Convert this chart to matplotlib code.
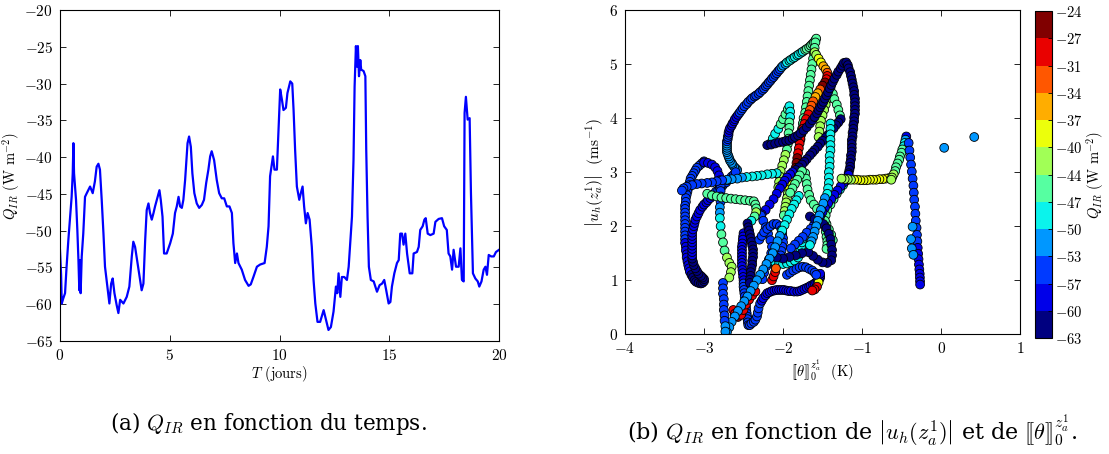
import numpy as np
import matplotlib
matplotlib.use("Agg")
import matplotlib.pyplot as plt
from matplotlib.colors import BoundaryNorm

plt.rcParams['font.family'] = ['cmr10']
plt.rcParams['mathtext.fontset'] = 'cm'
plt.rcParams['axes.formatter.use_mathtext'] = True
plt.rcParams['axes.unicode_minus'] = True

# ---------------- left panel: Q_IR time series ----------------
time_days = [0.00, 0.05, 0.08, 0.15, 0.23, 0.30, 0.38, 0.46, 0.53, 0.58, 0.61, 0.64, 0.73, 0.79, 0.84,
             0.88, 0.91, 0.94, 0.99, 1.06, 1.14, 1.22, 1.37, 1.49, 1.59, 1.67, 1.75, 1.82, 1.90, 1.98,
             2.05, 2.16, 2.25, 2.33, 2.40, 2.48, 2.58, 2.66, 2.74, 2.89, 3.04, 3.16, 3.27, 3.34, 3.42,
             3.53, 3.65, 3.72, 3.80, 3.88, 3.95, 4.03, 4.10, 4.18, 4.26, 4.33, 4.41, 4.53, 4.59, 4.67,
             4.74, 4.86, 5.02, 5.14, 5.24, 5.32, 5.40, 5.47, 5.55, 5.62, 5.70, 5.81, 5.88, 5.96, 6.03,
             6.12, 6.23, 6.34, 6.46, 6.56, 6.66, 6.76, 6.84, 6.91, 7.02, 7.14, 7.25, 7.37, 7.48, 7.60,
             7.72, 7.83, 7.90, 7.98, 8.06, 8.13, 8.28, 8.43, 8.59, 8.69, 8.81, 8.97, 9.12, 9.32, 9.42,
             9.50, 9.57, 9.70, 9.77, 9.88, 9.95, 10.03, 10.11, 10.18, 10.29, 10.36, 10.49, 10.58, 10.64,
             10.71, 10.79, 10.90, 10.97, 11.05, 11.12, 11.20, 11.28, 11.37, 11.47, 11.55, 11.63, 11.73,
             11.85, 12.01, 12.11, 12.23, 12.34, 12.46, 12.57, 12.63, 12.69, 12.77, 12.84, 12.95, 13.07,
             13.15, 13.22, 13.30, 13.37, 13.42, 13.48, 13.53, 13.57, 13.62, 13.68, 13.72, 13.83, 13.91,
             13.95, 14.01, 14.07, 14.16, 14.29, 14.44, 14.56, 14.67, 14.77, 14.86, 14.97, 15.05, 15.12,
             15.23, 15.35, 15.43, 15.50, 15.58, 15.65, 15.73, 15.81, 15.93, 16.05, 16.11, 16.26, 16.34,
             16.41, 16.52, 16.60, 16.66, 16.75, 16.87, 17.02, 17.10, 17.25, 17.40, 17.50, 17.62, 17.70,
             17.78, 17.86, 17.93, 18.04, 18.16, 18.24, 18.31, 18.39, 18.43, 18.49, 18.57, 18.66, 18.72,
             18.81, 18.92, 19.03, 19.10, 19.20, 19.30, 19.38, 19.45, 19.53, 19.64, 19.76, 19.86, 20.00]
q_ir = [-52.7, -56.0, -59.9, -59.2, -58.5, -54.9, -51.3, -48.1, -45.4, -42.2, -38.1, -42.2, -45.8, -49.9, -54.0,
        -58.1, -54.0, -58.5, -53.5, -50.4, -45.4, -44.9, -44.0, -44.9, -43.3, -41.3, -40.9, -41.7, -45.8, -50.4,
        -54.9, -57.6, -59.9, -57.2, -56.5, -58.5, -60.1, -61.2, -59.4, -59.9, -59.0, -57.6, -53.5, -51.5, -52.2,
        -54.4, -56.7, -58.1, -57.2, -51.3, -47.2, -46.3, -47.6, -48.5, -47.6, -46.7, -45.8, -44.5, -45.8, -48.1,
        -53.1, -53.1, -51.7, -50.4, -47.6, -46.7, -45.4, -46.7, -46.9, -45.8, -43.1, -38.1, -37.2, -38.6, -42.2,
        -44.9, -46.3, -46.9, -46.5, -45.8, -43.5, -41.7, -39.9, -39.2, -40.4, -43.1, -44.9, -45.6, -45.6, -46.7,
        -46.7, -47.6, -51.7, -54.4, -53.1, -54.4, -55.3, -56.7, -57.5, -57.3, -56.3, -54.9, -54.6, -54.4, -52.2,
        -49.4, -42.6, -39.9, -41.7, -41.7, -36.7, -30.8, -32.2, -33.6, -33.3, -31.3, -29.7, -30.0, -33.6,
        -39.0, -44.0, -45.8, -44.9, -44.0, -46.7, -49.0, -47.6, -48.5, -52.2, -56.7, -59.9, -62.4,
        -62.4, -60.8, -62.0, -63.5, -63.1, -61.0, -57.6, -58.5, -55.8, -59.0, -56.3, -56.3, -56.7,
        -54.9, -51.7, -48.1, -40.4, -30.4, -24.9, -27.7, -24.9, -29.0, -26.8, -28.1, -28.3, -29.0,
        -39.0, -48.1, -54.9, -56.7, -56.9, -58.3, -57.4, -57.2, -56.7, -58.1, -59.9, -59.7, -57.6,
        -55.8, -54.4, -54.0, -50.4, -50.4, -51.9, -50.4, -53.1, -55.8, -55.8, -53.1, -52.9, -52.2,
        -49.9, -49.4, -48.5, -48.3, -50.4, -50.6, -50.4, -48.8, -48.4, -48.3, -49.4, -49.9, -53.1,
        -53.5, -55.3, -52.6, -54.9, -54.9, -52.4, -56.7, -56.9, -34.0, -31.8, -34.9, -34.7, -44.9,
        -55.8, -56.5, -56.9, -57.6, -56.9, -55.3, -54.9, -56.0, -53.3, -53.5, -53.5, -52.9, -52.6]

left_xticks = [0, 5, 10, 15, 20]
left_yticks = [-65, -60, -55, -50, -45, -40, -35, -30, -25, -20]

# ---------------- right panel: scatter (theta jump, |u_h|, Q_IR) ----------------
path_arc = [(-2.58, 3.04, -53), (-2.60, 3.07, -53), (-2.62, 3.10, -53), (-2.64, 3.14, -52), (-2.65, 3.17, -52),
            (-2.67, 3.21, -52), (-2.68, 3.25, -52), (-2.69, 3.29, -51), (-2.70, 3.33, -51), (-2.71, 3.37, -51),
            (-2.71, 3.41, -51), (-2.71, 3.45, -52), (-2.71, 3.49, -52), (-2.71, 3.53, -53), (-2.71, 3.57, -54),
            (-2.70, 3.61, -55), (-2.70, 3.65, -56), (-2.69, 3.69, -57), (-2.69, 3.73, -58), (-2.68, 3.78, -58),
            (-2.67, 3.82, -58), (-2.65, 3.86, -58), (-2.64, 3.90, -58), (-2.62, 3.94, -58), (-2.61, 3.98, -58),
            (-2.59, 4.02, -58), (-2.57, 4.06, -58), (-2.55, 4.10, -57), (-2.53, 4.14, -57), (-2.51, 4.18, -57),
            (-2.49, 4.22, -57), (-2.46, 4.26, -57), (-2.44, 4.30, -57), (-2.41, 4.34, -57), (-2.39, 4.37, -57),
            (-2.36, 4.40, -57), (-2.34, 4.42, -57), (-2.31, 4.45, -57), (-2.29, 4.48, -57), (-2.26, 4.52, -57),
            (-2.24, 4.55, -57), (-2.22, 4.59, -57), (-2.20, 4.62, -57), (-2.18, 4.66, -56), (-2.16, 4.69, -56),
            (-2.14, 4.73, -56), (-2.12, 4.76, -56), (-2.10, 4.80, -56), (-2.08, 4.83, -56), (-2.06, 4.87, -55),
            (-2.04, 4.90, -55), (-2.02, 4.94, -53), (-2.00, 4.97, -52), (-1.97, 5.00, -51), (-1.95, 5.03, -50),
            (-1.92, 5.06, -49), (-1.90, 5.08, -49), (-1.87, 5.11, -49), (-1.85, 5.13, -49), (-1.82, 5.16, -48),
            (-1.80, 5.18, -48), (-1.77, 5.21, -48), (-1.75, 5.23, -48), (-1.72, 5.26, -47), (-1.70, 5.28, -47),
            (-1.67, 5.31, -47), (-1.65, 5.34, -47), (-1.63, 5.37, -46), (-1.61, 5.40, -46), (-1.59, 5.44, -46),
            (-1.58, 5.47, -46)]
path_aqua = [(-1.59, 5.40, -46), (-1.60, 5.30, -46), (-1.61, 5.20, -46), (-1.62, 5.10, -46), (-1.63, 5.00, -46),
             (-1.64, 4.90, -45), (-1.65, 4.80, -45), (-1.66, 4.70, -45), (-1.67, 4.60, -45), (-1.68, 4.50, -45),
             (-1.69, 4.40, -45), (-1.70, 4.30, -45), (-1.71, 4.20, -45), (-1.72, 4.10, -45), (-1.74, 4.00, -45),
             (-1.75, 3.90, -45), (-1.76, 3.80, -45), (-1.77, 3.70, -45), (-1.78, 3.60, -45)]
path_lime = [(-1.42, 4.45, -42), (-1.44, 4.35, -42), (-1.46, 4.25, -42), (-1.48, 4.15, -42), (-1.50, 4.05, -42),
             (-1.52, 3.95, -42), (-1.53, 3.85, -42), (-1.54, 3.75, -42), (-1.55, 3.65, -42)]
path_green = [(-1.42, 4.65, -46), (-1.40, 4.55, -46), (-1.37, 4.45, -46), (-1.35, 4.35, -46), (-1.32, 4.25, -46),
              (-1.30, 4.15, -46), (-1.28, 4.05, -46)]
path_red = [(-1.60, 5.22, -44), (-1.58, 5.17, -41), (-1.55, 5.10, -39), (-1.52, 5.03, -38), (-1.49, 4.96, -37),
            (-1.46, 4.90, -36), (-1.44, 4.84, -33), (-1.44, 4.78, -30), (-1.45, 4.72, -28), (-1.47, 4.66, -27),
            (-1.50, 4.60, -27), (-1.53, 4.53, -33), (-1.56, 4.46, -35), (-1.59, 4.39, -35), (-1.62, 4.31, -33),
            (-1.64, 4.23, -32), (-1.66, 4.15, -32), (-1.68, 4.07, -30), (-1.71, 3.98, -29), (-1.73, 3.89, -29),
            (-1.75, 3.80, -29), (-1.77, 3.71, -29), (-1.78, 3.62, -29), (-1.79, 3.53, -28), (-1.80, 3.44, -28),
            (-1.81, 3.35, -28), (-1.82, 3.26, -27), (-1.83, 3.17, -27), (-1.84, 3.08, -26), (-1.84, 3.00, -25),
            (-1.86, 2.92, -30), (-1.88, 2.84, -35), (-1.90, 2.76, -38), (-1.92, 2.68, -40), (-1.94, 2.60, -41),
            (-1.95, 2.52, -42), (-1.96, 2.44, -42), (-1.97, 2.36, -43), (-1.98, 2.28, -44), (-1.99, 2.20, -45)]
path_four = [(-2.16, 3.53, -50), (-2.13, 3.62, -49), (-2.10, 3.71, -48), (-2.06, 3.80, -48), (-2.03, 3.89, -47),
             (-2.00, 3.98, -47), (-1.97, 4.07, -47), (-1.94, 4.16, -47), (-1.92, 4.22, -48), (-1.91, 4.12, -48),
             (-1.91, 4.02, -48), (-1.92, 3.92, -47), (-1.92, 3.82, -46), (-1.93, 3.72, -46), (-1.93, 3.62, -45),
             (-1.94, 3.52, -45), (-1.95, 3.42, -45), (-1.97, 3.32, -44), (-1.99, 3.22, -44), (-2.01, 3.12, -43),
             (-2.03, 3.02, -43), (-2.04, 2.92, -42), (-2.05, 2.82, -42), (-2.06, 2.72, -42)]
path_leaf = [(-2.20, 3.50, -62), (-2.15, 3.51, -62), (-2.10, 3.53, -62), (-2.05, 3.55, -62), (-2.00, 3.56, -62),
             (-1.96, 3.58, -62), (-1.92, 3.59, -62), (-1.88, 3.62, -62), (-1.85, 3.65, -62), (-1.81, 3.68, -62),
             (-1.78, 3.72, -62), (-1.74, 3.77, -62), (-1.70, 3.83, -62), (-1.66, 3.90, -62), (-1.63, 3.96, -62),
             (-1.60, 4.02, -62), (-1.57, 4.09, -62), (-1.55, 4.15, -62), (-1.53, 4.20, -62), (-1.51, 4.25, -62),
             (-1.49, 4.30, -62), (-1.47, 4.36, -62), (-1.45, 4.42, -62), (-1.43, 4.48, -62), (-1.41, 4.55, -62),
             (-1.39, 4.61, -62), (-1.37, 4.67, -62), (-1.35, 4.73, -62), (-1.32, 4.80, -62), (-1.30, 4.86, -62),
             (-1.27, 4.92, -62), (-1.25, 4.97, -62), (-1.23, 5.02, -62), (-1.20, 5.03, -62), (-1.18, 4.98, -62),
             (-1.17, 4.92, -62), (-1.15, 4.85, -62), (-1.14, 4.78, -62), (-1.13, 4.71, -62), (-1.12, 4.64, -62),
             (-1.11, 4.57, -62), (-1.10, 4.50, -62), (-1.10, 4.43, -62), (-1.09, 4.36, -62), (-1.09, 4.29, -62),
             (-1.09, 4.22, -62), (-1.09, 4.15, -62), (-1.09, 4.08, -62), (-1.10, 4.01, -62), (-1.10, 3.94, -62),
             (-1.11, 3.87, -62), (-1.11, 3.80, -62), (-1.12, 3.73, -62), (-1.12, 3.66, -62), (-1.13, 3.59, -62),
             (-1.13, 3.52, -62), (-1.13, 3.45, -62), (-1.13, 3.38, -62), (-1.14, 3.31, -62), (-1.14, 3.24, -62),
             (-1.15, 3.17, -62), (-1.15, 3.10, -62), (-1.16, 3.04, -62), (-1.17, 2.98, -61)]
path_hook = [(-1.27, 3.98, -62), (-1.30, 3.92, -62), (-1.33, 3.87, -62), (-1.36, 3.81, -62), (-1.40, 3.74, -62),
             (-1.43, 3.69, -62), (-1.46, 3.64, -62), (-1.50, 3.58, -62), (-1.53, 3.53, -62), (-1.56, 3.47, -62),
             (-1.60, 3.41, -62), (-1.63, 3.36, -62), (-1.66, 3.31, -61), (-1.70, 3.24, -61), (-1.73, 3.19, -61),
             (-1.76, 3.14, -61), (-1.80, 3.09, -61), (-1.84, 3.04, -61), (-1.88, 3.00, -60), (-1.91, 2.96, -60),
             (-1.95, 2.90, -60), (-1.98, 2.84, -60), (-2.01, 2.77, -60), (-2.04, 2.70, -60), (-2.08, 2.60, -60),
             (-2.12, 2.50, -59), (-2.17, 2.40, -59), (-2.22, 2.30, -59), (-2.27, 2.22, -58)]
path_tangle_b = [(-2.28, 2.20, -57), (-2.25, 2.10, -57), (-2.22, 1.98, -57), (-2.19, 1.86, -57), (-2.16, 1.74, -57),
                 (-2.14, 1.62, -57), (-2.15, 1.50, -57), (-2.18, 1.38, -57), (-2.21, 1.26, -57), (-2.24, 1.14, -57),
                 (-2.26, 1.02, -57)]
path_left_u = [(-3.00, 3.20, -56), (-3.03, 3.16, -56), (-3.06, 3.12, -56), (-3.09, 3.08, -56), (-3.11, 3.03, -56),
               (-3.13, 2.98, -56), (-3.15, 2.93, -56), (-3.17, 2.88, -56), (-3.18, 2.82, -56), (-3.19, 2.76, -56),
               (-3.20, 2.70, -56), (-3.21, 2.64, -56), (-3.22, 2.58, -56), (-3.23, 2.52, -56), (-3.23, 2.45, -56),
               (-3.24, 2.38, -56), (-3.24, 2.32, -56), (-3.24, 2.25, -57), (-3.24, 2.18, -57), (-3.24, 2.11, -57),
               (-3.24, 2.04, -57), (-3.24, 1.97, -57), (-3.24, 1.90, -57), (-3.24, 1.83, -57), (-3.24, 1.76, -57),
               (-3.24, 1.69, -58), (-3.23, 1.62, -58), (-3.23, 1.55, -58), (-3.22, 1.48, -58), (-3.22, 1.42, -58),
               (-3.21, 1.35, -59), (-3.20, 1.28, -59), (-3.19, 1.22, -60), (-3.18, 1.16, -60), (-3.16, 1.10, -61),
               (-3.14, 1.05, -61), (-3.12, 1.00, -62), (-3.10, 0.97, -62), (-3.07, 0.95, -62), (-3.04, 0.94, -62),
               (-3.02, 0.95, -62), (-3.00, 0.98, -62), (-3.00, 1.02, -62), (-3.02, 1.05, -62), (-3.04, 1.08, -62),
               (-3.07, 1.12, -61), (-3.09, 1.17, -61), (-3.11, 1.22, -61), (-3.13, 1.28, -61), (-3.14, 1.34, -61),
               (-3.15, 1.40, -61), (-3.15, 1.46, -60), (-3.15, 1.52, -60), (-3.15, 1.58, -60), (-3.15, 1.64, -60),
               (-3.15, 1.70, -60), (-3.15, 1.76, -60), (-3.15, 1.82, -60), (-3.15, 1.88, -60), (-3.14, 1.94, -60),
               (-3.13, 2.00, -60), (-3.12, 2.06, -60), (-3.11, 2.12, -59), (-3.09, 2.18, -59), (-3.07, 2.24, -59),
               (-3.05, 2.30, -58), (-3.02, 2.36, -58), (-3.00, 2.40, -58), (-2.97, 2.44, -58), (-2.95, 2.48, -58),
               (-2.92, 2.52, -58), (-2.90, 2.56, -57), (-2.87, 2.60, -57), (-2.85, 2.64, -57), (-2.82, 2.67, -57),
               (-2.80, 2.71, -57), (-2.77, 2.74, -57), (-2.75, 2.78, -57), (-2.72, 2.81, -57), (-2.70, 2.85, -56),
               (-2.67, 2.88, -56), (-2.65, 2.92, -56), (-2.62, 2.96, -55), (-2.60, 3.00, -55)]
path_hump = [(-3.00, 3.18, -58), (-2.95, 3.17, -58), (-2.90, 3.14, -58), (-2.86, 3.09, -58), (-2.83, 3.02, -58),
             (-2.81, 2.94, -58), (-2.80, 2.85, -58), (-2.79, 2.75, -57), (-2.79, 2.65, -57), (-2.79, 2.55, -56),
             (-2.79, 2.45, -55), (-2.80, 2.35, -53), (-2.80, 2.25, -51), (-2.80, 2.15, -50), (-2.79, 2.00, -48),
             (-2.78, 1.85, -47), (-2.76, 1.70, -46), (-2.74, 1.55, -45), (-2.71, 1.42, -44), (-2.68, 1.32, -43),
             (-2.65, 1.25, -42), (-2.66, 1.15, -42), (-2.68, 1.05, -41)]
path_green_h = [(-2.96, 2.60, -47), (-2.90, 2.57, -47), (-2.84, 2.55, -47), (-2.78, 2.53, -47), (-2.72, 2.52, -46),
                (-2.66, 2.51, -46), (-2.60, 2.50, -46), (-2.54, 2.49, -46), (-2.48, 2.48, -46), (-2.42, 2.47, -45),
                (-2.37, 2.46, -45), (-2.35, 2.40, -45), (-2.34, 2.33, -45), (-2.34, 2.26, -44), (-2.36, 2.18, -46),
                (-2.40, 2.10, -50)]
path_bottom = [(-2.50, 1.87, -60), (-2.505, 1.81, -60), (-2.51, 1.75, -60), (-2.515, 1.68, -60), (-2.52, 1.62, -60),
               (-2.52, 1.56, -59), (-2.52, 1.50, -59), (-2.52, 1.44, -59), (-2.52, 1.38, -59), (-2.52, 1.32, -58),
               (-2.52, 1.26, -58), (-2.515, 1.19, -58), (-2.51, 1.13, -58), (-2.505, 1.06, -58), (-2.50, 1.00, -58),
               (-2.50, 0.94, -57), (-2.50, 0.88, -57), (-2.495, 0.82, -57), (-2.49, 0.76, -57), (-2.485, 0.70, -57),
               (-2.48, 0.63, -57), (-2.475, 0.57, -57), (-2.47, 0.51, -57), (-2.465, 0.45, -57), (-2.46, 0.39, -57),
               (-2.455, 0.33, -57), (-2.45, 0.28, -57), (-2.445, 0.22, -57), (-2.44, 0.17, -57), (-2.42, 0.17, -57),
               (-2.40, 0.20, -57), (-2.37, 0.23, -57), (-2.35, 0.27, -57), (-2.33, 0.33, -57), (-2.32, 0.40, -57),
               (-2.31, 0.48, -57), (-2.29, 0.57, -57), (-2.27, 0.62, -58), (-2.25, 0.67, -58), (-2.22, 0.72, -59),
               (-2.20, 0.76, -59), (-2.17, 0.78, -60), (-2.14, 0.80, -60), (-2.11, 0.81, -60), (-2.08, 0.82, -60),
               (-2.05, 0.82, -60), (-2.02, 0.82, -60), (-1.99, 0.82, -60), (-1.96, 0.81, -60), (-1.93, 0.80, -60),
               (-1.90, 0.80, -60), (-1.86, 0.79, -60), (-1.82, 0.79, -60), (-1.79, 0.80, -60), (-1.76, 0.82, -60),
               (-1.73, 0.84, -60), (-1.70, 0.86, -60), (-1.67, 0.88, -60), (-1.65, 0.90, -60), (-1.62, 0.92, -60),
               (-1.60, 0.94, -60), (-1.58, 0.96, -60), (-1.56, 0.99, -60), (-1.54, 1.02, -60), (-1.53, 1.05, -60),
               (-1.53, 1.08, -60), (-1.53, 1.12, -60)]
path_hook_red = [(-1.55, 0.96, -40), (-1.57, 0.88, -31), (-1.60, 0.83, -28), (-1.63, 0.81, -28)]
path_red_low = [(-2.63, 0.45, -30), (-2.61, 0.38, -28), (-2.57, 0.32, -26), (-2.53, 0.36, -28), (-2.50, 0.45, -29),
                (-2.47, 0.55, -29), (-2.43, 0.64, -30), (-2.39, 0.72, -30), (-2.35, 0.79, -31),
                (-2.14, 1.00, -29), (-2.12, 1.07, -28), (-2.10, 1.15, -30), (-2.09, 1.22, -33)]
path_navy_mid = [(-2.45, 2.05, -61), (-2.44, 1.98, -61), (-2.43, 1.92, -61), (-2.42, 1.85, -61), (-2.41, 1.78, -61),
                 (-2.40, 1.71, -61), (-2.39, 1.64, -61), (-2.38, 1.57, -61), (-2.38, 1.50, -61), (-2.38, 1.43, -61),
                 (-2.39, 1.36, -61), (-2.39, 1.29, -61), (-2.40, 1.22, -61), (-2.41, 1.15, -61), (-2.41, 1.08, -61),
                 (-2.42, 1.01, -61), (-2.42, 0.95, -61)]
path_blue_mid = [(-2.30, 1.75, -56), (-2.27, 1.82, -56), (-2.24, 1.89, -56), (-2.20, 1.95, -56), (-2.16, 2.00, -56),
                 (-2.12, 2.04, -56), (-2.08, 2.04, -56), (-2.04, 2.00, -56), (-2.02, 1.93, -56), (-2.01, 1.86, -56),
                 (-2.00, 1.78, -56), (-2.00, 1.70, -56), (-2.01, 1.62, -56), (-2.02, 1.54, -56), (-2.03, 1.46, -56),
                 (-2.05, 1.38, -56), (-2.07, 1.31, -56), (-2.09, 1.25, -56)]
path_teal_mid = [(-2.15, 1.35, -48), (-2.10, 1.33, -48), (-2.05, 1.31, -48), (-2.00, 1.30, -48), (-1.95, 1.31, -48),
                 (-1.90, 1.33, -48), (-1.85, 1.36, -48), (-1.81, 1.42, -48), (-1.79, 1.49, -48), (-1.78, 1.56, -48),
                 (-1.77, 1.63, -48), (-1.76, 1.70, -48), (-1.75, 1.77, -48)]
path_blue_low = [(-1.95, 1.10, -57), (-1.91, 1.14, -57), (-1.87, 1.18, -57), (-1.83, 1.21, -57), (-1.79, 1.24, -57),
                 (-1.75, 1.25, -57), (-1.71, 1.24, -57), (-1.67, 1.21, -57), (-1.63, 1.18, -57), (-1.60, 1.14, -57),
                 (-1.58, 1.10, -57)]
path_teal_a = [(-1.72, 2.98, -47), (-1.71, 2.88, -47), (-1.70, 2.78, -47), (-1.69, 2.68, -47), (-1.67, 2.58, -47),
               (-1.65, 2.48, -47), (-1.61, 2.40, -47), (-1.57, 2.32, -47), (-1.53, 2.24, -47), (-1.49, 2.14, -47),
               (-1.45, 2.04, -47), (-1.42, 1.94, -47), (-1.39, 1.84, -47), (-1.37, 1.74, -47)]
path_teal_b = [(-1.17, 2.92, -48), (-1.20, 2.84, -48), (-1.24, 2.76, -48), (-1.28, 2.68, -48), (-1.32, 2.60, -47),
               (-1.36, 2.50, -47), (-1.40, 2.40, -47), (-1.44, 2.30, -46), (-1.46, 2.20, -46), (-1.47, 2.10, -46),
               (-1.47, 2.00, -45), (-1.46, 1.90, -45), (-1.45, 1.80, -45), (-1.44, 1.72, -45), (-1.44, 1.65, -45),
               (-1.45, 1.58, -46)]
path_blue_diag = [(-1.17, 2.95, -58), (-1.20, 2.88, -58), (-1.23, 2.81, -58), (-1.27, 2.74, -58), (-1.31, 2.66, -58),
                  (-1.35, 2.58, -58), (-1.39, 2.50, -58), (-1.43, 2.42, -58), (-1.47, 2.34, -58), (-1.50, 2.26, -58),
                  (-1.53, 2.18, -58), (-1.57, 2.10, -57), (-1.61, 2.02, -57), (-1.65, 1.95, -57), (-1.70, 1.88, -57),
                  (-1.75, 1.80, -57), (-1.80, 1.73, -57), (-1.85, 1.66, -57), (-1.90, 1.59, -57)]
path_navy_loop = [(-1.66, 2.18, -61), (-1.60, 2.13, -61), (-1.54, 2.09, -61), (-1.49, 2.04, -61), (-1.45, 1.96, -61),
                  (-1.42, 1.86, -61), (-1.40, 1.76, -61), (-1.39, 1.66, -61), (-1.38, 1.56, -61), (-1.38, 1.46, -61),
                  (-1.39, 1.37, -61), (-1.44, 1.32, -61), (-1.50, 1.33, -61), (-1.56, 1.38, -61), (-1.62, 1.45, -61),
                  (-1.68, 1.52, -61), (-1.76, 1.50, -61), (-1.84, 1.46, -61), (-1.92, 1.43, -61), (-2.00, 1.40, -61),
                  (-2.08, 1.42, -61)]
path_lb_diag = [(-1.80, 2.56, -48), (-1.83, 2.48, -48), (-1.86, 2.40, -48), (-1.89, 2.32, -48), (-1.92, 2.22, -48),
                (-1.95, 2.12, -49), (-1.98, 2.02, -49), (-2.01, 1.92, -50), (-2.04, 1.82, -51), (-2.07, 1.72, -51),
                (-2.10, 1.61, -51), (-2.13, 1.50, -51), (-2.17, 1.40, -51), (-2.21, 1.30, -51), (-2.25, 1.20, -52),
                (-2.29, 1.10, -52), (-2.33, 1.00, -52), (-2.37, 0.90, -52), (-2.41, 0.80, -52), (-2.45, 0.70, -52),
                (-2.49, 0.61, -52), (-2.53, 0.52, -52), (-2.57, 0.43, -52), (-2.61, 0.33, -53), (-2.65, 0.23, -53),
                (-2.68, 0.13, -53), (-2.71, 0.04, -53)]
path_lb_vert = [(-2.76, 0.95, -55), (-2.76, 0.85, -55), (-2.76, 0.75, -55), (-2.75, 0.65, -54), (-2.75, 0.55, -54),
                (-2.75, 0.45, -54), (-2.74, 0.35, -54), (-2.74, 0.25, -54), (-2.73, 0.15, -53), (-2.73, 0.05, -53)]
path_lightgreen = [(-1.76, 3.02, -45), (-1.79, 2.94, -45), (-1.82, 2.86, -45), (-1.85, 2.78, -45), (-1.88, 2.70, -45),
                   (-1.91, 2.62, -45)]
path_cyan_h = [(-2.08, 2.98, -48), (-2.14, 2.97, -48), (-2.20, 2.96, -48), (-2.27, 2.94, -48), (-2.33, 2.93, -48),
               (-2.39, 2.92, -49), (-2.46, 2.91, -50), (-2.52, 2.90, -51), (-2.58, 2.88, -52), (-2.65, 2.87, -52),
               (-2.71, 2.86, -53), (-2.77, 2.85, -54), (-2.84, 2.83, -55), (-2.90, 2.81, -56), (-2.96, 2.80, -56),
               (-3.03, 2.79, -56), (-3.09, 2.78, -56), (-3.15, 2.76, -56), (-3.22, 2.73, -55), (-3.26, 2.70, -55),
               (-3.28, 2.66, -55)]
path_cyan_v = [(-1.40, 3.90, -49), (-1.40, 3.80, -49), (-1.40, 3.70, -49), (-1.40, 3.60, -49), (-1.40, 3.50, -49),
               (-1.40, 3.40, -49), (-1.41, 3.30, -49), (-1.41, 3.20, -49), (-1.41, 3.10, -49), (-1.42, 3.00, -49),
               (-1.42, 2.90, -49), (-1.42, 2.80, -49), (-1.43, 2.70, -50), (-1.44, 2.60, -50), (-1.47, 2.52, -51),
               (-1.49, 2.42, -51), (-1.52, 2.30, -51), (-1.54, 2.20, -52), (-1.56, 2.10, -52), (-1.58, 2.00, -52),
               (-1.60, 1.90, -52), (-1.62, 1.80, -52), (-1.64, 1.72, -52), (-1.66, 1.65, -50)]
path_yellow = [(-0.66, 2.89, -41), (-0.70, 2.88, -40), (-0.74, 2.87, -39), (-0.78, 2.87, -39), (-0.82, 2.86, -39),
               (-0.86, 2.86, -39), (-0.90, 2.86, -39), (-0.94, 2.85, -39), (-0.98, 2.85, -39), (-1.02, 2.85, -39),
               (-1.06, 2.86, -40), (-1.10, 2.86, -40), (-1.14, 2.86, -41), (-1.18, 2.87, -42), (-1.22, 2.87, -43),
               (-1.26, 2.88, -44)]
path_green_tube = [(-0.44, 3.66, -58), (-0.45, 3.60, -52), (-0.46, 3.54, -49), (-0.47, 3.48, -48), (-0.49, 3.42, -47),
                   (-0.50, 3.36, -47), (-0.52, 3.29, -47), (-0.53, 3.23, -46), (-0.55, 3.16, -46), (-0.57, 3.09, -46),
                   (-0.58, 3.02, -45), (-0.60, 2.96, -44), (-0.62, 2.90, -42), (-0.63, 2.86, -42)]
path_chain = [(-0.41, 3.54, -56), (-0.40, 3.40, -56), (-0.39, 3.27, -56), (-0.38, 3.14, -56), (-0.37, 3.01, -56),
              (-0.36, 2.88, -56), (-0.35, 2.75, -56), (-0.345, 2.62, -56), (-0.34, 2.49, -57), (-0.33, 2.36, -57),
              (-0.325, 2.23, -57), (-0.32, 2.10, -57), (-0.31, 1.97, -57), (-0.305, 1.84, -57), (-0.30, 1.72, -57),
              (-0.295, 1.60, -58), (-0.29, 1.49, -58), (-0.285, 1.39, -58), (-0.28, 1.29, -59), (-0.275, 1.20, -59),
              (-0.27, 1.12, -59), (-0.268, 1.05, -59), (-0.266, 0.98, -59), (-0.265, 0.92, -59)]
path_isolated = [(-0.38, 1.76, -52), (-0.37, 1.59, -52), (-0.35, 1.47, -52), (-0.36, 1.99, -52),
                 (0.04, 3.45, -52), (0.42, 3.65, -52)]

scatter_paths = [path_arc, path_aqua, path_lime, path_green, path_red, path_four, path_leaf, path_hook,
                 path_tangle_b, path_left_u, path_hump, path_green_h, path_bottom, path_hook_red,
                 path_navy_mid, path_blue_mid, path_teal_mid, path_blue_low,
                 path_red_low, path_teal_a, path_teal_b, path_blue_diag, path_navy_loop, path_lb_diag,
                 path_lb_vert, path_lightgreen, path_cyan_h, path_cyan_v, path_yellow, path_green_tube,
                 path_chain, path_isolated]

right_xticks = [-4, -3, -2, -1, 0, 1]
right_yticks = [0, 1, 2, 3, 4, 5, 6]
q_min, q_max, n_levels = -63.6, -24.6, 12
cbar_ticklabels = ['-63', '-60', '-57', '-53', '-50', '-47', '-44', '-40', '-37', '-34', '-31', '-27', '-24']

# ---------------- figure ----------------
fig = plt.figure(figsize=(11.09, 4.54), dpi=100)

def style_axes(ax):
    ax.tick_params(direction='in', top=True, right=True, length=4, width=0.6,
                   labelsize=11, pad=5)
    for s in ax.spines.values():
        s.set_linewidth(0.8)

ax1 = fig.add_axes([0.0541, 0.2489, 0.3959, 0.729])
ax1.plot(time_days, q_ir, color='blue', lw=1.6)
ax1.set_xlim(0, 20)
ax1.set_ylim(-65, -20)
ax1.set_xticks(left_xticks)
ax1.set_yticks(left_yticks)
ax1.set_xlabel(r'$T$ (jours)', fontsize=10.5, labelpad=1)
ax1.set_ylabel(r'$Q_{IR}$ (W m$^{-2}$)', fontsize=10.5, labelpad=2)
style_axes(ax1)

ax2 = fig.add_axes([0.5636, 0.2637, 0.3562, 0.7143])
pts = np.array([p for path in scatter_paths for p in path])
bounds = np.linspace(q_min, q_max, n_levels + 1)
cmap = plt.get_cmap('jet', n_levels)
norm = BoundaryNorm(bounds, cmap.N)
sc = ax2.scatter(pts[:, 0], pts[:, 1], c=pts[:, 2], cmap=cmap, norm=norm, s=40,
                 edgecolors='black', linewidths=0.6, zorder=2)
ax2.set_xlim(-4, 1)
ax2.set_ylim(0, 6)
ax2.set_xticks(right_xticks)
ax2.set_yticks(right_yticks)
ax2.set_xlabel(r'$[\![\theta]\!]_0^{z_a^1}$  (K)', fontsize=10.5, labelpad=1)
ax2.set_ylabel(r'$\left|u_h(z_a^1)\right|$  (ms$^{-1}$)', fontsize=11, labelpad=3)
style_axes(ax2)

cax = fig.add_axes([0.9333, 0.2555, 0.0153, 0.720])
cb = fig.colorbar(sc, cax=cax, boundaries=bounds, ticks=bounds)
cb.ax.set_yticklabels([r'$%s$' % t for t in cbar_ticklabels])
cb.ax.tick_params(direction='in', length=3, width=0.6, labelsize=10.5, pad=2)
cb.outline.set_linewidth(0.8)
cb.set_label(r'$Q_{IR}$ (W m$^{-2}$)', fontsize=10.5, labelpad=1)

cap_font = dict(family=['DejaVu Serif'], fontsize=15.5)
fig.text(0.2417, 0.053, r'(a) $Q_{IR}$ en fonction du temps.', ha='center', va='baseline', **cap_font)
fig.text(0.768, 0.031, r'(b) $Q_{IR}$ en fonction de $\left|u_h(z_a^1)\right|$ et de $[\![\theta]\!]_0^{z_a^1}$.',
         ha='center', va='baseline', fontsize=16, family=['DejaVu Serif'])

fig.savefig('out.png', dpi=100)
